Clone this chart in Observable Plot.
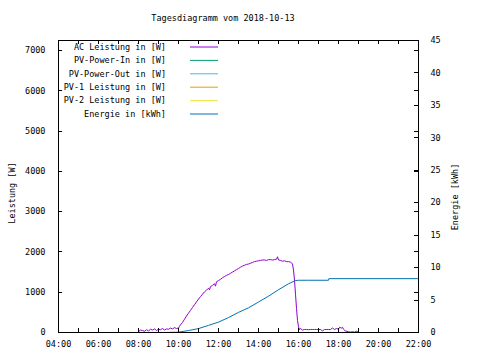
<!DOCTYPE html>
<html><head><meta charset="utf-8">
<script src="https://cdn.jsdelivr.net/npm/d3@7"></script>
<script src="https://cdn.jsdelivr.net/npm/@observablehq/plot@0.6"></script>
<style>body{margin:0;background:#fff}svg{display:block}</style>
</head><body><div id="chart"></div>
<script>
const title = "Tagesdiagramm vom 2018-10-13";
const yLabelLeft = "Leistung [W]";
const yLabelRight = "Energie [kWh]";
const legendNames = ["AC Leistung in [W]","PV-Power-In in [W]","PV-Power-Out in [W]","PV-1 Leistung in [W]","PV-2 Leistung in [W]","Energie in [kWh]"];
const legendColors = ["#9400d3","#009e73","#56b4e9","#e69f00","#f0e442","#0072b2"];
const xTicks = [4,6,8,10,12,14,16,18,20,22];
const leftTicks = [0,1000,2000,3000,4000,5000,6000,7000];
const rightTicks = [0,5,10,15,20,25,30,35,40,45];

const acTimes = ["08:00","08:06","08:12","08:18","08:24","08:30","08:36","08:42","08:48","08:54","09:00","09:06","09:12","09:18","09:24","09:30","09:36","09:42","09:48","09:54","10:00","10:03","10:06","10:12","10:18","10:24","10:30","10:36","10:42","10:48","10:54","11:00","11:06","11:12","11:18","11:24","11:30","11:33","11:36","11:42","11:48","11:51","11:54","12:00","12:06","12:12","12:18","12:24","12:30","12:36","12:42","12:48","12:54","13:00","13:06","13:12","13:18","13:24","13:30","13:36","13:42","13:48","13:54","14:00","14:06","14:12","14:18","14:24","14:30","14:36","14:42","14:48","14:54","14:57","15:00","15:06","15:12","15:18","15:24","15:30","15:36","15:42","15:45","15:48","15:51","15:54","15:57","16:00","16:03","16:06","16:12","16:18","16:24","16:30","16:36","16:42","16:48","16:54","17:00","17:06","17:12","17:18","17:24","17:30","17:36","17:42","17:48","17:54","18:00","18:03","18:09","18:12","18:15","18:20","18:30","18:36","18:42","18:48","18:54","19:00"];
const acValues = [20,60,50,30,70,40,80,60,90,50,80,70,100,60,90,80,110,90,120,100,110,150,190,250,330,410,480,550,620,690,760,830,890,950,1010,1050,1100,1060,1140,1170,1210,1150,1260,1290,1320,1360,1390,1420,1440,1470,1500,1530,1560,1590,1620,1650,1670,1690,1700,1720,1740,1760,1770,1780,1790,1800,1800,1790,1810,1810,1800,1810,1820,1880,1800,1790,1770,1780,1760,1760,1750,1700,1550,1300,950,600,300,140,70,100,60,75,75,70,75,75,75,75,70,75,40,75,75,75,75,110,75,100,80,130,110,130,80,40,20,10,20,10,30,10];

const enTimes = ["09:20","10:00","10:30","11:00","11:30","12:00","12:30","13:00","13:30","14:00","14:30","15:00","15:30","15:50","16:00","16:30","17:30","17:31","22:00"];
const enValues = [0,0.05,0.3,0.6,1.1,1.6,2.3,3.1,3.8,4.7,5.6,6.6,7.5,8.0,8.05,8.05,8.05,8.3,8.3];

const W_MAX = 7250, E_MAX = 45, K = W_MAX / E_MAX;
const toH = s => { const [h,m] = s.split(":").map(Number); return h + m/60; };
const ac = acTimes.map((t,i) => ({x: toH(t), y: acValues[i]}));
const en = enTimes.map((t,i) => ({x: toH(t), y: enValues[i] * K}));
const hours = d3.range(4, 23);
const FONT = "DejaVu Sans Mono";

const plot = Plot.plot({
  width: 480, height: 360,
  marginLeft: 58, marginRight: 62, marginTop: 40, marginBottom: 28,
  style: {fontFamily: FONT, fontSize: "8.5px", background: "#fff", color: "#000"},
  x: {domain: [4, 22]},
  y: {domain: [0, W_MAX]},
  marks: [
    Plot.axisX(xTicks, {anchor: "bottom", tickSize: 0, tickPadding: 8, tickFormat: d => String(d).padStart(2,"0") + ":00", label: null}),
    Plot.axisY(leftTicks, {anchor: "left", tickSize: 0, tickPadding: 13, label: null, tickFormat: d => String(d)}),
    Plot.axisY(rightTicks.map(v => v * K), {anchor: "right", tickSize: 0, tickPadding: 12, label: null, tickFormat: d => String(Math.round(d / K))}),
    Plot.line(ac, {x: "x", y: "y", stroke: legendColors[0], strokeWidth: 1}),
    Plot.line(en, {x: "x", y: "y", stroke: legendColors[5], strokeWidth: 1}),
    Plot.frame({stroke: "#000"})
  ]
});
document.getElementById("chart").appendChild(plot);

const svg = d3.select(plot);
const sx = plot.scale("x"), sy = plot.scale("y");
const [x0, x1] = sx.range, [y0, y1] = sy.range; // y0 bottom, y1 top
const TL = 4;
const tg = svg.append("g").attr("stroke", "#000").attr("stroke-width", 1);
hours.forEach(h => {
  const x = Math.round(sx.apply(h)) + 0.5;
  tg.append("line").attr("x1", x).attr("x2", x).attr("y1", y0).attr("y2", y0 - TL);
  tg.append("line").attr("x1", x).attr("x2", x).attr("y1", y1).attr("y2", y1 + TL);
});
leftTicks.forEach(v => {
  const y = Math.round(sy.apply(v)) + 0.5;
  tg.append("line").attr("x1", x0).attr("x2", x0 + TL).attr("y1", y).attr("y2", y);
  tg.append("line").attr("x1", x1).attr("x2", x1 - TL).attr("y1", y).attr("y2", y);
});
rightTicks.forEach(v => {
  const y = Math.round(sy.apply(v * K)) + 0.5;
  tg.append("line").attr("x1", x1).attr("x2", x1 - TL).attr("y1", y).attr("y2", y);
});

svg.append("text").attr("x", 223).attr("y", 21).attr("text-anchor", "middle")
  .attr("font-family", FONT).attr("font-size", "8.5px").text(title);
svg.append("text").attr("transform", "translate(15,193) rotate(-90)").attr("text-anchor", "middle")
  .attr("font-family", FONT).attr("font-size", "8.5px").text(yLabelLeft);
svg.append("text").attr("transform", "translate(458,197) rotate(-90)").attr("text-anchor", "middle")
  .attr("font-family", FONT).attr("font-size", "8.5px").text(yLabelRight);
const lg = svg.append("g");
legendNames.forEach((n, i) => {
  const y = 47 + i * 13.4;
  lg.append("text").attr("x", 166).attr("y", y).attr("dy", "0.32em").attr("text-anchor", "end")
    .attr("font-family", FONT).attr("font-size", "8.5px").text(n);
  lg.append("line").attr("x1", 190).attr("x2", 218).attr("y1", y).attr("y2", y)
    .attr("stroke", legendColors[i]).attr("stroke-width", 1);
});
</script></body></html>
